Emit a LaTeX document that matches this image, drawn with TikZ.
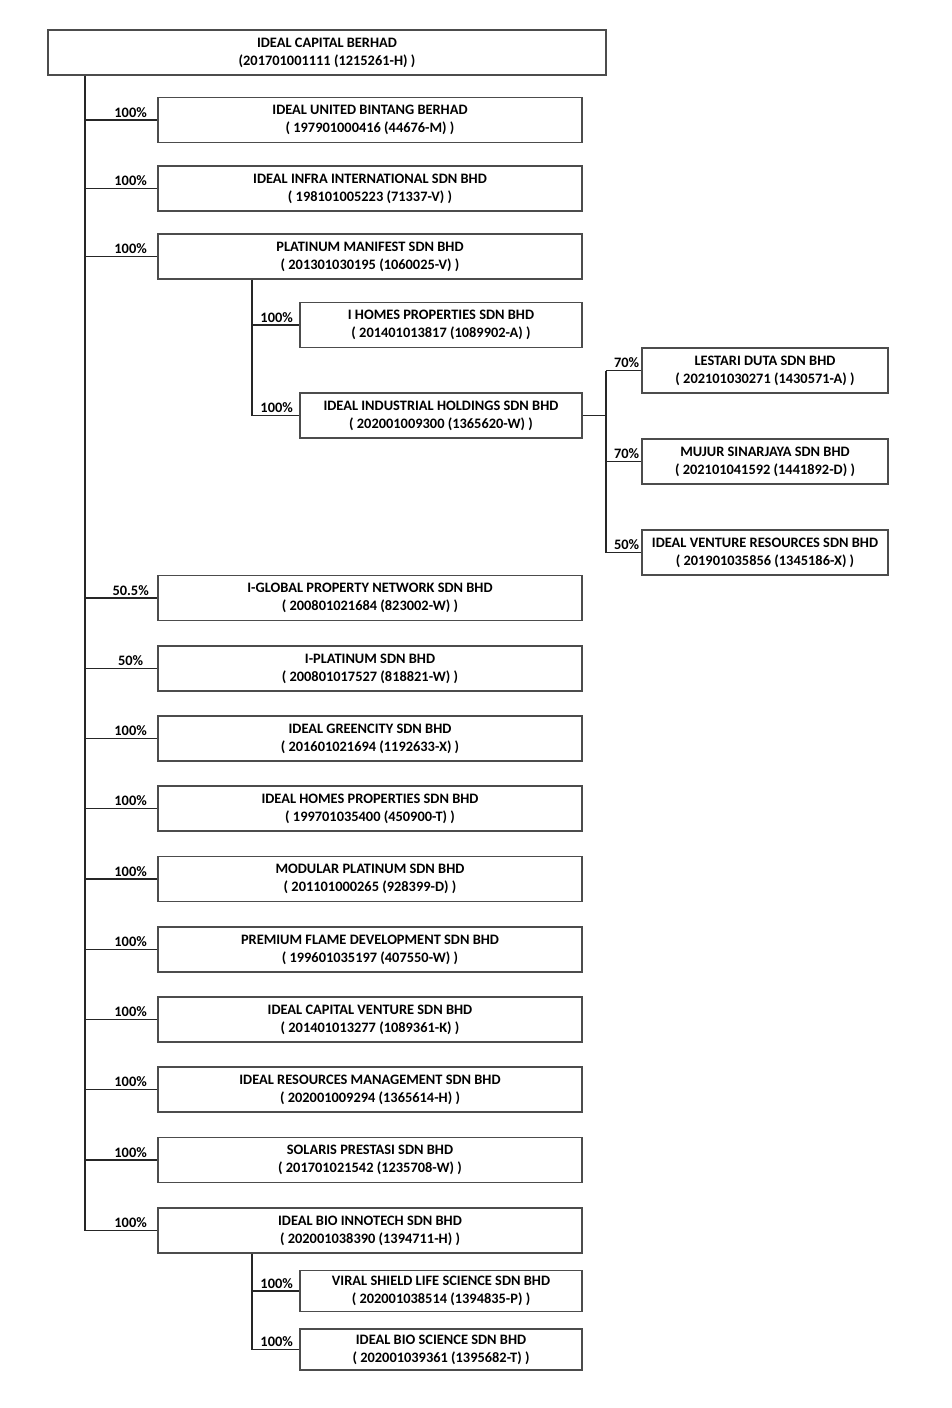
\documentclass[tikz,border=0pt]{standalone}
\usepackage{fontspec}
\setmainfont{Carlito}
\begin{document}
\begin{tikzpicture}[x=1pt,y=-1pt,
  firm/.style={draw=black!70,line width=1.1pt,rectangle,inner sep=0pt,minimum height=45pt,align=center,
    font=\bfseries\fontsize{14.4}{18}\selectfont,execute at begin node={\rule{0pt}{14pt}}},
  lvla/.style={firm,minimum width=424pt},
  lvlb/.style={firm,minimum width=282pt},
  lvlc/.style={firm,minimum width=246pt},
  share/.style={above,inner sep=2.2pt,font=\bfseries\fontsize{14.4}{16}\selectfont},
  link/.style={draw=black!85,line width=1.1pt}]
  \useasboundingbox (0,0) rectangle (952,1408);
  % holding company
  \node[firm,minimum width=558pt] (root) at (327,52.5) {IDEAL CAPITAL BERHAD\\(201701001111 (1215261-H) )};
  % direct subsidiaries
  \node[lvla] (unb) at (370,120) {IDEAL UNITED BINTANG BERHAD\\( 197901000416 (44676-M) )};
  \node[lvla] (iii) at (370,188.5) {IDEAL INFRA INTERNATIONAL SDN BHD\\( 198101005223 (71337-V) )};
  \node[lvla] (pm) at (370,256.5) {PLATINUM MANIFEST SDN BHD\\( 201301030195 (1060025-V) )};
  \node[lvla] (igp) at (370,598) {I-GLOBAL PROPERTY NETWORK SDN BHD\\( 200801021684 (823002-W) )};
  \node[lvla] (ipl) at (370,668.5) {I-PLATINUM SDN BHD\\( 200801017527 (818821-W) )};
  \node[lvla] (igc) at (370,738.5) {IDEAL GREENCITY SDN BHD\\( 201601021694 (1192633-X) )};
  \node[lvla] (ihp) at (370,808.5) {IDEAL HOMES PROPERTIES SDN BHD\\( 199701035400 (450900-T) )};
  \node[lvla] (mp) at (370,879) {MODULAR PLATINUM SDN BHD\\( 201101000265 (928399-D) )};
  \node[lvla] (pfd) at (370,949.5) {PREMIUM FLAME DEVELOPMENT SDN BHD\\( 199601035197 (407550-W) )};
  \node[lvla] (icv) at (370,1019.5) {IDEAL CAPITAL VENTURE SDN BHD\\( 201401013277 (1089361-K) )};
  \node[lvla] (irm) at (370,1089.5) {IDEAL RESOURCES MANAGEMENT SDN BHD\\( 202001009294 (1365614-H) )};
  \node[lvla] (sp) at (370,1160) {SOLARIS PRESTASI SDN BHD\\( 201701021542 (1235708-W) )};
  \node[lvla] (bio) at (370,1230.5) {IDEAL BIO INNOTECH SDN BHD\\( 202001038390 (1394711-H) )};
  % under platinum manifest
  \node[lvlb] (ihm) at (441,325) {I HOMES PROPERTIES SDN BHD\\( 201401013817 (1089902-A) )};
  \node[lvlb] (iih) at (441,415.5) {IDEAL INDUSTRIAL HOLDINGS SDN BHD\\( 202001009300 (1365620-W) )};
  % under ideal industrial holdings
  \node[lvlc] (ld) at (765,370.5) {LESTARI DUTA SDN BHD\\( 202101030271 (1430571-A) )};
  \node[lvlc] (ms) at (765,461.5) {MUJUR SINARJAYA SDN BHD\\( 202101041592 (1441892-D) )};
  \node[lvlc] (ivr) at (765,552.5) {IDEAL VENTURE RESOURCES SDN BHD\\( 201901035856 (1345186-X) )};
  % under ideal bio innotech
  \node[lvlb,minimum height=41pt] (vsl) at (441,1291) {VIRAL SHIELD LIFE SCIENCE SDN BHD\\( 202001038514 (1394835-P) )};
  \node[lvlb,minimum height=41pt] (ibs) at (441,1349.5) {IDEAL BIO SCIENCE SDN BHD\\( 202001039361 (1395682-T) )};
  % connectors
  \coordinate (bus) at (85,0);
  \coordinate (pbus) at (252,0);
  \coordinate (ibus) at (606,0);
  \draw[link] (root.south -| bus) -- (bus |- bio.west);
  \draw[link] (bus |- unb.west) -- (unb.west) node[share,pos=.63]{100\%};
  \draw[link] (bus |- iii.west) -- (iii.west) node[share,pos=.63]{100\%};
  \draw[link] (bus |- pm.west) -- (pm.west) node[share,pos=.63]{100\%};
  \draw[link] (bus |- igp.west) -- (igp.west) node[share,pos=.63]{50.5\%};
  \draw[link] (bus |- ipl.west) -- (ipl.west) node[share,pos=.63]{50\%};
  \draw[link] (bus |- igc.west) -- (igc.west) node[share,pos=.63]{100\%};
  \draw[link] (bus |- ihp.west) -- (ihp.west) node[share,pos=.63]{100\%};
  \draw[link] (bus |- mp.west) -- (mp.west) node[share,pos=.63]{100\%};
  \draw[link] (bus |- pfd.west) -- (pfd.west) node[share,pos=.63]{100\%};
  \draw[link] (bus |- icv.west) -- (icv.west) node[share,pos=.63]{100\%};
  \draw[link] (bus |- irm.west) -- (irm.west) node[share,pos=.63]{100\%};
  \draw[link] (bus |- sp.west) -- (sp.west) node[share,pos=.63]{100\%};
  \draw[link] (bus |- bio.west) -- (bio.west) node[share,pos=.63]{100\%};
  \draw[link] (pm.south -| pbus) -- (pbus |- iih.west);
  \draw[link] (pbus |- ihm.west) -- (ihm.west) node[share,pos=.52]{100\%};
  \draw[link] (pbus |- iih.west) -- (iih.west) node[share,pos=.52]{100\%};
  \draw[link] (iih.east) -- (ibus |- iih.east);
  \draw[link] (ibus |- ld.west) -- (ibus |- ivr.west);
  \draw[link] (ibus |- ld.west) -- (ld.west) node[share,pos=.58]{70\%};
  \draw[link] (ibus |- ms.west) -- (ms.west) node[share,pos=.58]{70\%};
  \draw[link] (ibus |- ivr.west) -- (ivr.west) node[share,pos=.58]{50\%};
  \draw[link] (bio.south -| pbus) -- (pbus |- ibs.west);
  \draw[link] (pbus |- vsl.west) -- (vsl.west) node[share,pos=.52]{100\%};
  \draw[link] (pbus |- ibs.west) -- (ibs.west) node[share,pos=.52]{100\%};
\end{tikzpicture}
\end{document}
